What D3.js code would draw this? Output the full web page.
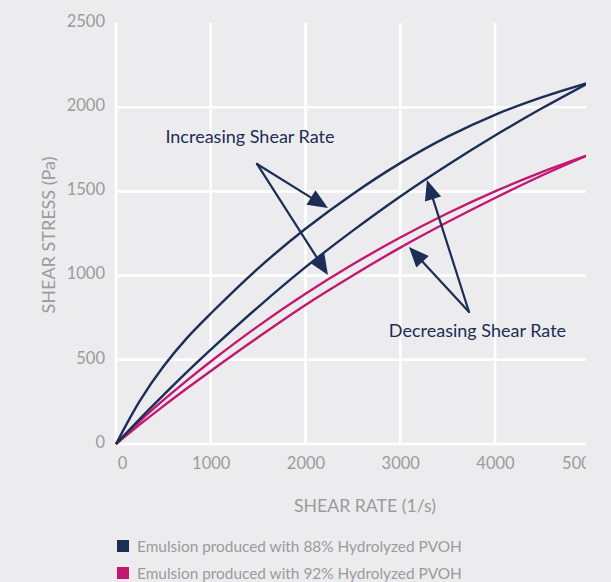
<!DOCTYPE html>
<html>
<head>
<meta charset="utf-8">
<script src="https://cdn.jsdelivr.net/npm/d3@7"></script>
<style>
  html, body { margin: 0; padding: 0; background: #ececee; }
  svg { display: block; font-family: Lato, "Open Sans", sans-serif; }
</style>
</head>
<body>
<svg id="chart" width="611" height="582"></svg>
<script>
// Shear rate (1/s) sampled along each flow curve
const shearRate = [0, 250, 500, 750, 1000, 1500, 2000, 2500, 3000, 3500, 4000, 4500, 5000];

// Shear stress (Pa), 88% hydrolyzed PVOH emulsion: ramp up / ramp down
const stress88Up   = [0, 255, 460, 630, 775, 1043, 1278, 1485, 1668, 1825, 1955, 2060, 2148];
const stress88Down = [0, 148, 290, 428, 560, 813, 1050, 1267, 1470, 1657, 1832, 1995, 2148];

// Shear stress (Pa), 92% hydrolyzed PVOH emulsion: ramp up / ramp down
const stress92Up   = [0, 135, 260, 378, 490, 700, 892, 1067, 1226, 1370, 1500, 1616, 1720];
const stress92Down = [0, 115, 225, 331, 434, 634, 826, 1001, 1166, 1318, 1461, 1596, 1720];

const seriesNames = [
  "Emulsion produced with 88% Hydrolyzed PVOH",
  "Emulsion produced with 92% Hydrolyzed PVOH"
];
const seriesColors = ["#1c2d56", "#c3186f"];

const xTicks = [0, 1000, 2000, 3000, 4000, 5000];
const yTicks = [0, 500, 1000, 1500, 2000, 2500];

// Annotation callouts, in data units (shear rate, shear stress)
const increasingLabel = "Increasing Shear Rate";
const increasingLabelAt = [1414, 1787];
const increasingFrom = [1488, 1663];
const increasingTips = [[2237, 1401], [2237, 1004]];

const decreasingLabel = "Decreasing Shear Rate";
const decreasingLabelAt = [3815, 635];
const decreasingFrom = [3726, 784];
const decreasingTips = [[3282, 1568], [3092, 1170]];

const svg = d3.select("#chart");
const W = 611, H = 582;
const gridColor = "#ffffff";
const textGray = "#9b9b9b";

svg.append("rect").attr("width", W).attr("height", H).attr("fill", "#ececee");

const x = d3.scaleLinear().domain([0, 5000]).range([116, 589.75]);
const y = d3.scaleLinear().domain([0, 2500]).range([444, 23]);

// Plot area is cut off on the right edge
svg.append("defs").append("clipPath").attr("id", "cut")
  .append("rect").attr("x", 0).attr("y", 0).attr("width", 586).attr("height", H);

const plot = svg.append("g").attr("clip-path", "url(#cut)");

// Grid
plot.append("g").selectAll("line")
  .data(yTicks.filter(d => d < 2500))
  .join("line")
  .attr("x1", x(0)).attr("x2", x(5000))
  .attr("y1", d => y(d)).attr("y2", d => y(d))
  .attr("stroke", gridColor).attr("stroke-width", 2.6);

plot.append("g").selectAll("line")
  .data(xTicks)
  .join("line")
  .attr("x1", d => x(d)).attr("x2", d => x(d))
  .attr("y1", y(2500)).attr("y2", y(0))
  .attr("stroke", gridColor).attr("stroke-width", 2.6);

// Axes (labels only)
const xAxis = plot.append("g")
  .attr("transform", `translate(0,${y(0)})`)
  .call(d3.axisBottom(x).tickValues(xTicks).tickSize(0).tickPadding(13).tickFormat(d3.format("d")));
xAxis.select(".domain").remove();
xAxis.selectAll("text")
  .attr("fill", textGray).attr("font-size", 16.5).attr("font-family", "Lato, sans-serif")
  .attr("dx", d => d === 0 ? 6 : (d === 5000 ? -9 : 0));

const yAxis = svg.append("g")
  .attr("transform", `translate(${x(0)},0)`)
  .call(d3.axisLeft(y).tickValues(yTicks).tickSize(0).tickPadding(11).tickFormat(d3.format("d")));
yAxis.select(".domain").remove();
yAxis.selectAll("text")
  .attr("fill", textGray).attr("font-size", 16.5).attr("font-family", "Lato, sans-serif")
  .attr("dy", "0.2em");

// Axis titles
svg.append("text")
  .attr("x", 365).attr("y", 512)
  .attr("text-anchor", "middle")
  .attr("fill", textGray).attr("font-size", 17.7)
  .text("SHEAR RATE (1/s)");

svg.append("text")
  .attr("transform", "translate(55,235) rotate(-90)")
  .attr("text-anchor", "middle")
  .attr("fill", textGray).attr("font-size", 18)
  .text("SHEAR STRESS (Pa)");

// Flow curves
const line = d3.line()
  .x((d, i) => x(shearRate[i]))
  .y(d => y(d))
  .curve(d3.curveCatmullRom.alpha(0.5));

const curves = [
  { values: stress92Up, color: seriesColors[1] },
  { values: stress92Down, color: seriesColors[1] },
  { values: stress88Up, color: seriesColors[0] },
  { values: stress88Down, color: seriesColors[0] }
];

plot.append("g").selectAll("path")
  .data(curves)
  .join("path")
  .attr("d", d => line(d.values))
  .attr("fill", "none")
  .attr("stroke", d => d.color)
  .attr("stroke-width", 2.4)
  .attr("stroke-linejoin", "round");

// Callout arrows
const navy = seriesColors[0];
function arrow(g, from, tip) {
  const x0 = x(from[0]), y0 = y(from[1]);
  const x1 = x(tip[0]), y1 = y(tip[1]);
  const dx = x1 - x0, dy = y1 - y0;
  const len = Math.hypot(dx, dy);
  const ux = dx / len, uy = dy / len;
  const headLen = 20, headHalf = 8.5;
  const bx = x1 - ux * headLen, by = y1 - uy * headLen;
  g.append("line")
    .attr("x1", x0).attr("y1", y0)
    .attr("x2", bx + ux * 2).attr("y2", by + uy * 2)
    .attr("stroke", navy).attr("stroke-width", 2.2)
    .attr("stroke-linecap", "round");
  g.append("path")
    .attr("d", `M${x1},${y1}L${bx - uy * headHalf},${by + ux * headHalf}L${bx + uy * headHalf},${by - ux * headHalf}Z`)
    .attr("fill", navy);
}

const notes = svg.append("g");
increasingTips.forEach(t => arrow(notes, increasingFrom, t));
decreasingTips.forEach(t => arrow(notes, decreasingFrom, t));

notes.append("text")
  .attr("x", x(increasingLabelAt[0])).attr("y", y(increasingLabelAt[1]))
  .attr("text-anchor", "middle")
  .attr("fill", navy).attr("font-size", 18)
  .text(increasingLabel);

notes.append("text")
  .attr("x", x(decreasingLabelAt[0])).attr("y", y(decreasingLabelAt[1]))
  .attr("text-anchor", "middle")
  .attr("fill", navy).attr("font-size", 18)
  .text(decreasingLabel);

// Legend
const legend = svg.append("g");
seriesNames.forEach((name, i) => {
  const row = legend.append("g").attr("transform", `translate(117,${540 + i * 27})`);
  row.append("rect").attr("width", 12).attr("height", 12).attr("fill", seriesColors[i]);
  row.append("text")
    .attr("x", 20).attr("y", 12)
    .attr("fill", textGray).attr("font-size", 15.4)
    .text(name);
});
</script>
</body>
</html>
